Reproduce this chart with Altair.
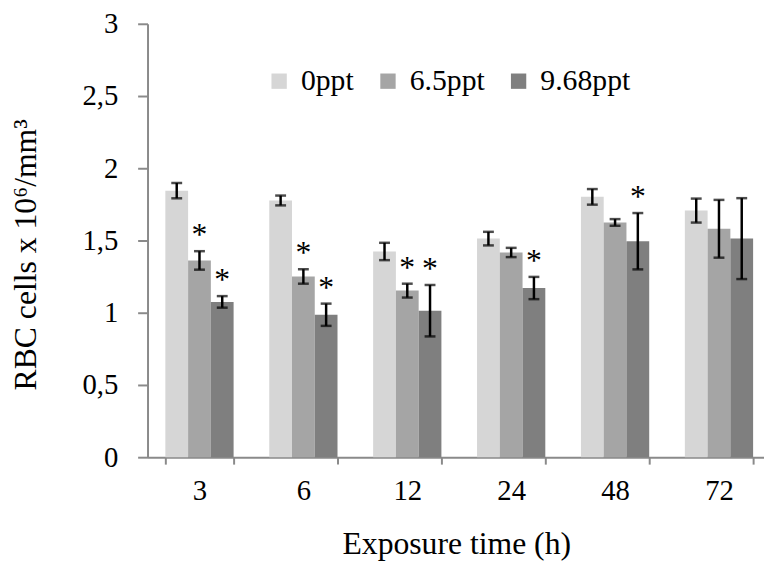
import altair as alt
import pandas as pd

times = ["3", "6", "12", "24", "48", "72"]
groups = ["0ppt", "6.5ppt", "9.68ppt"]
colors = ["#d6d6d6", "#a5a5a5", "#7f7f7f"]

mean_0 = [1.845, 1.777, 1.424, 1.513, 1.802, 1.707]
err_0 = [0.053, 0.034, 0.060, 0.047, 0.054, 0.083]
mean_65 = [1.362, 1.251, 1.153, 1.417, 1.625, 1.581]
err_65 = [0.064, 0.050, 0.048, 0.032, 0.023, 0.200]
mean_968 = [1.075, 0.986, 1.014, 1.171, 1.495, 1.513]
err_968 = [0.040, 0.077, 0.178, 0.077, 0.195, 0.280]
sig_0 = [False, False, False, False, False, False]
sig_65 = [True, True, True, False, False, False]
sig_968 = [True, True, True, True, True, False]

rows = []
for g, means, errs, sigs in zip(groups, [mean_0, mean_65, mean_968],
                                [err_0, err_65, err_968],
                                [sig_0, sig_65, sig_968]):
    for t, m, e, s in zip(times, means, errs, sigs):
        rows.append({"time": t, "group": g, "mean": m,
                     "lo": m - e, "hi": m + e, "sig": "*" if s else ""})
df = pd.DataFrame(rows)

FONT = "Liberation Serif"

x_enc = alt.X("time:N", sort=times,
              scale=alt.Scale(paddingInner=0.343, paddingOuter=0.1715, range=[0, 630]),
              axis=alt.Axis(title="Exposure time (h)", labelAngle=0, tickBand="extent",
                            labelPadding=13, tickSize=7,
                            titleX=312, titleY=87, titleBaseline="middle"))
xo_enc = alt.XOffset("group:N", sort=groups, scale=alt.Scale(paddingInner=0, paddingOuter=0))

y_scale = alt.Scale(domain=[0, 3], nice=False)

base = alt.Chart(df)

bars = base.mark_bar().encode(
    x=x_enc,
    xOffset=xo_enc,
    y=alt.Y("mean:Q", scale=y_scale,
            axis=alt.Axis(title="RBC cells x 10⁶/mm³", values=[0, 0.5, 1, 1.5, 2, 2.5, 3],
                          labelExpr="replace(format(datum.value, '~g'), '.', ',')",
                          labelPadding=20, tickSize=10, grid=False,
                          titleX=-123, titleY=233,
                          titleBaseline="middle", titleAlign="center")),
    color=alt.Color("group:N", sort=groups,
                    scale=alt.Scale(domain=groups, range=colors),
                    legend=alt.Legend(title=None, orient="none", direction="horizontal",
                                      legendX=118, legendY=43, symbolType="square",
                                      symbolSize=240, symbolStrokeWidth=0,
                                      labelOffset=7, columnPadding=19)),
)

rules = base.mark_rule(color="black", strokeWidth=2.5).encode(
    x=x_enc, xOffset=xo_enc,
    y=alt.Y("lo:Q", scale=y_scale), y2="hi:Q")

caps_lo = base.mark_tick(color="black", size=11, thickness=2.5, orient="horizontal").encode(
    x=x_enc, xOffset=xo_enc, y=alt.Y("lo:Q", scale=y_scale))
caps_hi = base.mark_tick(color="black", size=11, thickness=2.5, orient="horizontal").encode(
    x=x_enc, xOffset=xo_enc, y=alt.Y("hi:Q", scale=y_scale))

stars = base.mark_text(fontSize=32, color="black", baseline="alphabetic",
                       dy=-6).encode(
    x=x_enc, xOffset=xo_enc, y=alt.Y("hi:Q", scale=y_scale), text="sig:N")

chart = alt.layer(bars, rules, caps_lo, caps_hi, stars).properties(
    width=623, height=438,
    autosize=alt.AutoSizeParams(type="none"),
    padding={"left": 141, "top": 13, "right": 0, "bottom": 107},
).configure(
    font=FONT
).configure_axis(
    labelFont=FONT, labelFontSize=29, labelColor="black",
    titleFont=FONT, titleFontSize=32, titleFontWeight="normal", titleColor="black",
    tickColor="#8a8a8a", tickWidth=2, domainColor="#8a8a8a", domainWidth=2, grid=False,
).configure_legend(
    labelFont=FONT, labelFontSize=30, labelColor="black",
).configure_text(
    font=FONT
).configure_view(stroke=None)

chart.save("out.html", embed_options={"renderer": "svg", "actions": False})
